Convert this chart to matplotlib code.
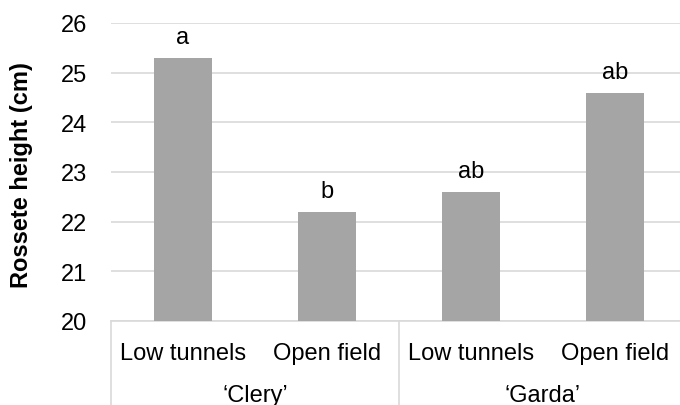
import numpy as np
import matplotlib
matplotlib.use("Agg")
import matplotlib.pyplot as plt

plt.rcParams['font.family'] = ['Liberation Sans', 'DejaVu Sans']

# data
treatments = ['Low tunnels', 'Open field', 'Low tunnels', 'Open field']
cultivars = ['\u2018Clery\u2019', '\u2018Garda\u2019']
heights = [25.3, 22.2, 22.6, 24.6]
letters = ['a', 'b', 'ab', 'ab']
yticks = [20, 21, 22, 23, 24, 25, 26]

bar_col = '#a5a5a5'
grid_col = '#d9d9d9'
txt_col = '#000000'

fig = plt.figure(figsize=(6.8, 4.06), dpi=100)
ax = fig.add_axes([111/680, 84/406, 576/680, 298/406])

x = np.arange(len(heights))
ax.bar(x, np.array(heights) - 20, bottom=20, width=0.4, color=bar_col, zorder=3)

ax.set_xlim(-0.5, 3.5)
ax.set_ylim(20, 26)
ax.set_yticks(yticks)
ax.set_yticklabels([str(t) for t in yticks], fontsize=17, color=txt_col)
ax.tick_params(axis='y', length=0, pad=17)
ax.yaxis.grid(True, color=grid_col, linewidth=1.2, zorder=0)
ax.set_axisbelow(True)
ax.set_xticks([])

for s in ['top', 'right', 'left']:
    ax.spines[s].set_visible(False)
ax.spines['bottom'].set_color(grid_col)
ax.spines['bottom'].set_linewidth(1.2)

# letters above bars
for i, (h, l) in enumerate(zip(heights, letters)):
    ax.annotate(l, xy=(i, h), xytext=(0, 10.5), textcoords='offset points',
                ha='center', va='baseline', fontsize=17, color=txt_col)

# inner category labels
for i, t in enumerate(treatments):
    ax.annotate(t, xy=(i, 0), xycoords=('data', 'axes fraction'),
                xytext=(0, -23), textcoords='offset points',
                ha='center', va='center', fontsize=17, color=txt_col)

# outer group labels
for g, name in enumerate(cultivars):
    ax.annotate(name, xy=(2*g + 0.5, 0), xycoords=('data', 'axes fraction'),
                xytext=(0, -53), textcoords='offset points',
                ha='center', va='center', fontsize=17, color=txt_col)

# group separators
trans = ax.get_xaxis_transform()
for xs in [-0.5, 1.5, 3.5]:
    ax.plot([xs, xs], [0, -0.4], transform=trans, color=grid_col,
            linewidth=1.2, clip_on=False)

fig.text(21.5/680, 1 - 175/406, 'Rossete height (cm)', rotation=90,
         ha='center', va='center', fontsize=17, fontweight='bold', color=txt_col)

fig.savefig('out.png', dpi=100)
